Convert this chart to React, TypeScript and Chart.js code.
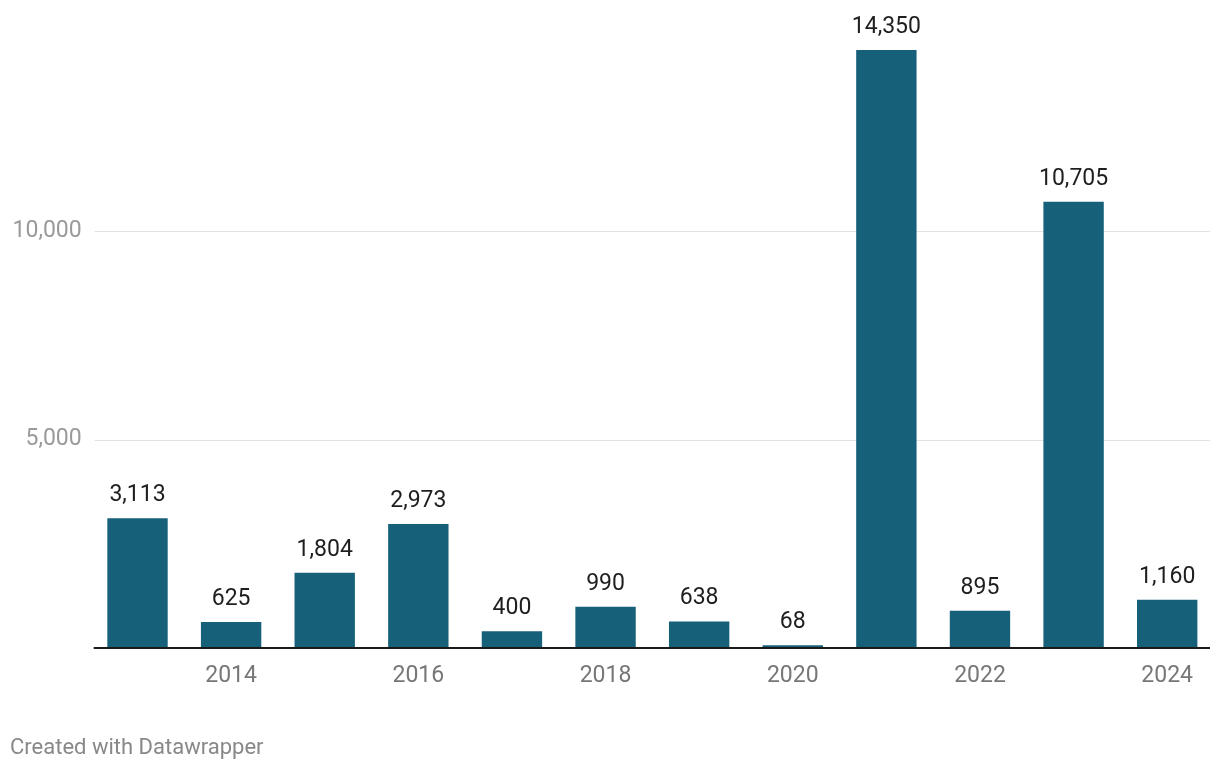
import React, { useEffect, useRef } from 'react';
import { Chart, registerables } from 'chart.js';

Chart.register(...registerables);

const YEARS = ['2013', '2014', '2015', '2016', '2017', '2018', '2019', '2020', '2021', '2022', '2023', '2024'];
const VALUES = [3113, 625, 1804, 2973, 400, 990, 638, 68, 14350, 895, 10705, 1160];
const Y_TICKS = [5000, 10000];
const X_LABELED = ['2014', '2016', '2018', '2020', '2022', '2024'];

const FONT = 'Roboto, "Noto Sans", sans-serif';
const BAR_COLOR = '#17607a';

const fmt = (v: number) => v.toLocaleString('en-US');

const decorPlugin = {
  id: 'decor',
  beforeDatasetsDraw(chart: any) {
    const { ctx, chartArea, scales } = chart;
    ctx.save();
    ctx.strokeStyle = '#e2e2e2';
    ctx.lineWidth = 1;
    Y_TICKS.forEach((v) => {
      const y = Math.round(scales.y.getPixelForValue(v)) + 0.5;
      ctx.beginPath();
      ctx.moveTo(chartArea.left + 4, y);
      ctx.lineTo(chartArea.right - 4, y);
      ctx.stroke();
    });
    ctx.restore();
  },
  afterDatasetsDraw(chart: any) {
    const { ctx, chartArea, scales } = chart;
    ctx.save();
    const y0 = scales.y.getPixelForValue(0);
    ctx.strokeStyle = '#1a1a1a';
    ctx.lineWidth = 2;
    ctx.beginPath();
    ctx.moveTo(chartArea.left + 3, y0);
    ctx.lineTo(chartArea.right - 4, y0);
    ctx.stroke();
    const meta = chart.getDatasetMeta(0);
    ctx.fillStyle = '#1e1e1e';
    ctx.font = `23px ${FONT}`;
    ctx.textAlign = 'center';
    ctx.textBaseline = 'alphabetic';
    meta.data.forEach((bar: any, i: number) => {
      ctx.fillText(fmt(VALUES[i]), bar.x, bar.y - 17);
    });
    ctx.restore();
  },
};

export default function App() {
  const ref = useRef<HTMLCanvasElement>(null);

  useEffect(() => {
    if (!ref.current) return;
    const chart = new Chart(ref.current, {
      type: 'bar',
      data: {
        labels: YEARS,
        datasets: [
          {
            data: VALUES,
            backgroundColor: BAR_COLOR,
            borderWidth: 0,
            categoryPercentage: 1,
            barPercentage: 0.645,
          },
        ],
      },
      options: {
        animation: false,
        responsive: false,
        devicePixelRatio: 1,
        layout: { padding: { left: 0, right: 6, top: 19, bottom: 0 } },
        plugins: { legend: { display: false }, tooltip: { enabled: false } },
        scales: {
          x: {
            grid: { display: false, drawTicks: false },
            border: { display: false },
            ticks: {
              autoSkip: false,
              maxRotation: 0,
              padding: 14,
              color: '#777777',
              font: { family: FONT, size: 23 },
              callback: (_v: any, idx: number) => (X_LABELED.includes(YEARS[idx]) ? YEARS[idx] : ''),
            },
            afterFit: (scale: any) => {
              scale.height = 122;
            },
          },
          y: {
            min: 0,
            max: 15000,
            grid: { display: false, drawTicks: false },
            border: { display: false },
            afterBuildTicks: (scale: any) => {
              scale.ticks = Y_TICKS.map((v) => ({ value: v }));
            },
            ticks: {
              padding: 9,
              color: '#9a9a9a',
              font: { family: FONT, size: 23 },
              callback: (v: any) => fmt(Number(v)),
            },
            afterFit: (scale: any) => {
              scale.width = 90.7;
            },
          },
        },
      },
      plugins: [decorPlugin],
    });
    return () => chart.destroy();
  }, []);

  return (
    <div style={{ position: 'absolute', left: 0, top: 0, width: 1220, height: 770, background: '#fff' }}>
      <canvas ref={ref} width={1220} height={770} style={{ display: 'block' }} />
      <div
        style={{
          position: 'absolute',
          left: 10,
          top: 736,
          fontFamily: FONT,
          fontSize: 22,
          lineHeight: '22px',
          color: '#888888',
          whiteSpace: 'nowrap',
        }}
      >
        Created with Datawrapper
      </div>
    </div>
  );
}
